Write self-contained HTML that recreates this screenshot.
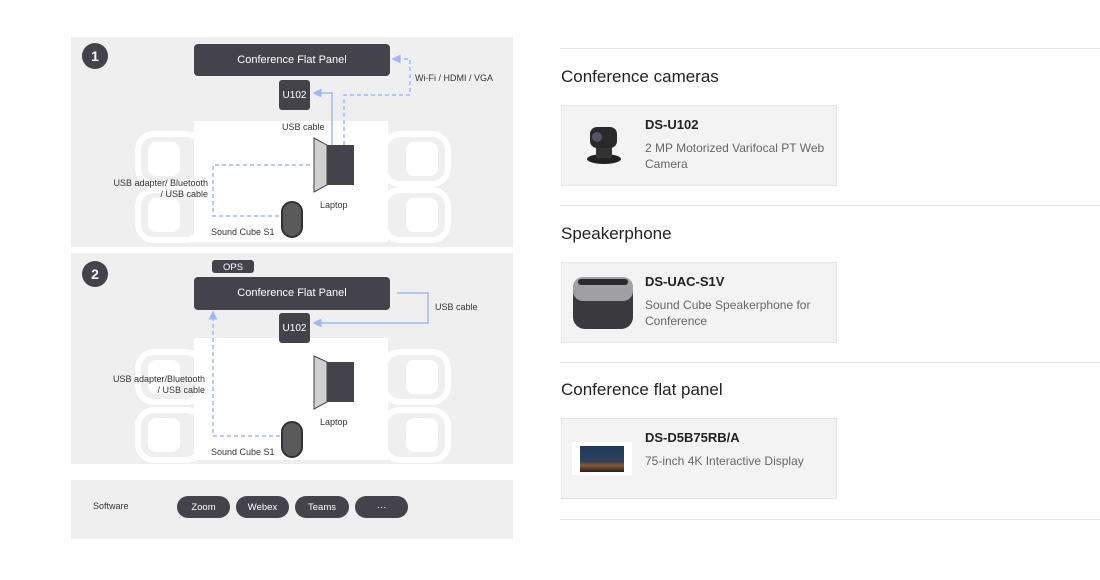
<!DOCTYPE html>
<html><head><meta charset="utf-8"><style>
body{margin:0;width:1100px;height:580px;background:#fff;position:relative;overflow:hidden;font-family:"Liberation Sans",sans-serif}
.hr{position:absolute;left:560px;width:540px;height:1px;background:#e8e8e8}
.h{position:absolute;left:561px;font-size:17px;color:#222}
.card{position:absolute;left:561px;width:274px;height:79px;background:#f3f3f3;border:1px solid #e5e5e5}
.t{position:absolute;left:83px;top:11px;font-size:13px;font-weight:bold;color:#222}
.d{position:absolute;left:83px;top:34px;font-size:12px;line-height:16px;color:#666;width:185px}
</style></head><body>
<svg width="520" height="580" style="position:absolute;left:0;top:0" font-family="Liberation Sans, sans-serif">
<defs>
<marker id="a" markerWidth="6" markerHeight="6" refX="5" refY="3" orient="auto"><path d="M0,0L6,3L0,6z" fill="#9fb8f5"/></marker>
<g id="chairL"><rect x="138" y="0" width="64" height="50" rx="16" fill="none" stroke="#fff" stroke-width="6"/><rect x="148" y="8" width="32" height="34" rx="8" fill="#fff"/></g>
<g id="chairR"><rect x="384" y="0" width="64" height="50" rx="16" fill="none" stroke="#fff" stroke-width="6"/><rect x="406" y="8" width="32" height="34" rx="8" fill="#fff"/></g>
</defs>
<rect x="71" y="37" width="442" height="210" fill="#efefef"/>
<rect x="71" y="253" width="442" height="211" fill="#efefef"/>
<rect x="71" y="480" width="442" height="59" fill="#efefef"/>
<!-- panel 1 -->
<use href="#chairL" y="134"/><use href="#chairL" y="190"/>
<use href="#chairR" y="134"/><use href="#chairR" y="190"/>
<rect x="194" y="121" width="194" height="121" fill="#fff"/>
<circle cx="95" cy="56" r="13" fill="#44434c"/><text x="95" y="61" fill="#fff" font-size="14" font-weight="bold" text-anchor="middle">1</text>
<rect x="194" y="44" width="196" height="32" rx="4" fill="#44434c"/><text x="292" y="63" fill="#fff" font-size="11" text-anchor="middle">Conference Flat Panel</text>
<rect x="279" y="80" width="31" height="30" rx="3" fill="#44434c"/><text x="294.5" y="98" fill="#fff" font-size="10" text-anchor="middle">U102</text>
<polygon points="314,138 327,145 327,185 314,192" fill="#d0d0d0" stroke="#44434c" stroke-width="1"/>
<rect x="327" y="145" width="27" height="40" fill="#44434c"/>
<rect x="282" y="202" width="20" height="35" rx="10" fill="#5a5a5a" stroke="#2f2f35" stroke-width="2"/>
<path d="M332,145V93H314" fill="none" stroke="#9fb8f5" stroke-width="1.5" marker-end="url(#a)"/>
<path d="M344,145V95H410V59H393" fill="none" stroke="#9fb8f5" stroke-width="1.5" stroke-dasharray="4,3" marker-end="url(#a)"/>
<path d="M310,165H213V216H280" fill="none" stroke="#9fb8f5" stroke-width="1.5" stroke-dasharray="4,3"/>
<g font-size="9" fill="#333">
<text x="415" y="81">Wi-Fi / HDMI / VGA</text>
<text x="282" y="130">USB cable</text>
<text x="208" y="186" text-anchor="end">USB adapter/ Bluetooth</text>
<text x="208" y="197" text-anchor="end">/ USB cable</text>
<text x="320" y="208">Laptop</text>
<text x="211" y="235">Sound Cube S1</text>
</g>
<!-- panel 2 -->
<use href="#chairL" y="352"/><use href="#chairL" y="410"/>
<use href="#chairR" y="352"/><use href="#chairR" y="410"/>
<rect x="194" y="338" width="194" height="122" fill="#fff"/>
<circle cx="95" cy="274" r="13" fill="#44434c"/><text x="95" y="279" fill="#fff" font-size="14" font-weight="bold" text-anchor="middle">2</text>
<rect x="212" y="260" width="42" height="13" rx="3" fill="#44434c"/><text x="233" y="270" fill="#fff" font-size="9.5" text-anchor="middle">OPS</text>
<rect x="194" y="277" width="196" height="33" rx="4" fill="#44434c"/><text x="292" y="296" fill="#fff" font-size="11" text-anchor="middle">Conference Flat Panel</text>
<rect x="279" y="313" width="31" height="30" rx="3" fill="#44434c"/><text x="294.5" y="331" fill="#fff" font-size="10" text-anchor="middle">U102</text>
<polygon points="314,356 327,362 327,402 314,409" fill="#d0d0d0" stroke="#44434c" stroke-width="1"/>
<rect x="327" y="362" width="27" height="40" fill="#44434c"/>
<rect x="282" y="422" width="20" height="35" rx="10" fill="#5a5a5a" stroke="#2f2f35" stroke-width="2"/>
<path d="M397,293H428V323H314" fill="none" stroke="#9fb8f5" stroke-width="1.5" marker-end="url(#a)"/>
<path d="M280,436H213V312" fill="none" stroke="#9fb8f5" stroke-width="1.5" stroke-dasharray="4,3" marker-end="url(#a)"/>
<g font-size="9" fill="#333">
<text x="435" y="310">USB cable</text>
<text x="205" y="382" text-anchor="end">USB adapter/Bluetooth</text>
<text x="205" y="393" text-anchor="end">/ USB cable</text>
<text x="320" y="425">Laptop</text>
<text x="211" y="455">Sound Cube S1</text>
</g>
<!-- software -->
<text x="93" y="509" font-size="9" fill="#333">Software</text>
<g font-size="9.5" fill="#fff" text-anchor="middle">
<rect x="177" y="496" width="53" height="22" rx="11" fill="#44434c"/><text x="203.5" y="510">Zoom</text>
<rect x="236" y="496" width="53" height="22" rx="11" fill="#44434c"/><text x="262.5" y="510">Webex</text>
<rect x="295" y="496" width="54" height="22" rx="11" fill="#44434c"/><text x="322" y="510">Teams</text>
<rect x="355" y="496" width="53" height="22" rx="11" fill="#44434c"/><text x="381.5" y="510">···</text>
</g>
</svg>
<div class="hr" style="top:48px"></div>
<div class="hr" style="top:205px"></div>
<div class="hr" style="top:362px"></div>
<div class="hr" style="top:519px"></div>
<div class="h" style="top:67px">Conference cameras</div>
<div class="h" style="top:224px">Speakerphone</div>
<div class="h" style="top:380px">Conference flat panel</div>
<div class="card" style="top:105px">
<svg width="60" height="60" style="position:absolute;left:18px;top:12px"><ellipse cx="24" cy="41" rx="17" ry="5" fill="#222"/><rect x="16" y="28" width="16" height="12" fill="#333"/><rect x="10" y="9" width="27" height="21" rx="7" fill="#2a2a2a"/><circle cx="17" cy="19" r="5" fill="#556"/></svg>
<div class="t">DS-U102</div><div class="d">2 MP Motorized Varifocal PT Web Camera</div></div>
<div class="card" style="top:262px">
<svg width="70" height="70" style="position:absolute;left:8px;top:8px"><rect x="3" y="6" width="60" height="52" rx="12" fill="#3a3a3e"/><rect x="3" y="6" width="60" height="24" rx="10" fill="#a0a0a4"/><rect x="8" y="8" width="50" height="6" rx="3" fill="#2a2a2e"/></svg>
<div class="t">DS-UAC-S1V</div><div class="d">Sound Cube Speakerphone for Conference</div></div>
<div class="card" style="top:418px">
<div style="position:absolute;left:10px;top:23px;width:60px;height:33px;background:#fff"><div style="position:absolute;left:8px;top:4px;width:44px;height:26px;background:linear-gradient(#1e3a60,#30405a 60%,#8a5a30 75%,#222)"></div></div>
<div class="t">DS-D5B75RB/A</div><div class="d">75-inch 4K Interactive Display</div></div>
</body></html>
